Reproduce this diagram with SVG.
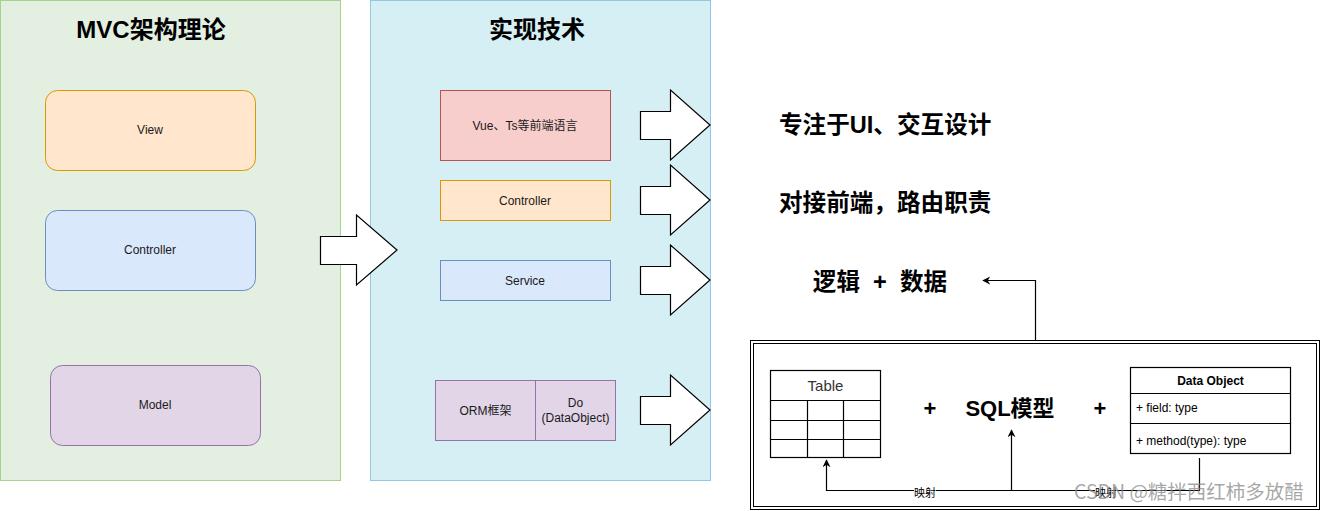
<svg xmlns="http://www.w3.org/2000/svg" width="1321" height="511" viewBox="0 0 1321 511">
<defs>
<style>
text{font-family:"Liberation Sans","Noto Sans CJK SC",sans-serif;fill:#1a1a1a;}
.t12{font-size:12px;}
.title{font-size:24px;font-weight:bold;fill:#000;}
.big{font-size:23.6px;font-weight:bold;fill:#000;}
.fat{fill:#fff;stroke:#000;stroke-width:1.2;}
.ln{fill:none;stroke:#000;stroke-width:1.2;}
.cell{fill:#fff;stroke:#000;stroke-width:1.2;}
</style>
<marker id="ah" viewBox="0 0 10 10" refX="9" refY="5" markerWidth="8" markerHeight="8" markerUnits="userSpaceOnUse" orient="auto">
<path d="M0,0 L10,5 L0,10 L3,5 Z" fill="#000"/>
</marker>
</defs>

<g id="panel-mvc">
<rect x="0.5" y="0.5" width="340" height="480" fill="#e3efe1" stroke="#a8d18d"/>
<text class="title" x="151" y="38" text-anchor="middle">MVC架构理论</text>
</g>
<g id="panel-impl">
<rect x="370.5" y="0.5" width="340" height="480" fill="#d5eff4" stroke="#90c8e8"/>
<text class="title" x="537" y="38" text-anchor="middle">实现技术</text>
</g>

<g id="view"><rect x="45.5" y="90.5" width="210" height="80" rx="12" fill="#ffe6cc" stroke="#d79b00"/><text class="t12" x="150" y="134" text-anchor="middle">View</text></g>
<g id="controller"><rect x="45.5" y="210.5" width="210" height="80" rx="12" fill="#dae8fc" stroke="#6c8ebf"/><text class="t12" x="150" y="254" text-anchor="middle">Controller</text></g>
<g id="model"><rect x="50.5" y="365.5" width="210" height="80" rx="12" fill="#e1d5e7" stroke="#9673a6"/><text class="t12" x="155" y="409" text-anchor="middle">Model</text></g>

<g id="big-arrow"><path class="fat" d="M320.5,236.5 H356.5 V215 L397,250 L356.5,285 V264.5 H320.5 Z"/></g>

<g id="vue"><rect x="440.5" y="90.5" width="170" height="70" fill="#f8cecc" stroke="#b85450"/><text class="t12" x="525" y="129.5" text-anchor="middle">Vue、Ts等前端语言</text></g>
<g id="impl-controller"><rect x="440.5" y="180.5" width="170" height="40" fill="#ffe6cc" stroke="#d79b00"/><text class="t12" x="525" y="204.5" text-anchor="middle">Controller</text></g>
<g id="service"><rect x="440.5" y="260.5" width="170" height="40" fill="#dae8fc" stroke="#6c8ebf"/><text class="t12" x="525" y="284.5" text-anchor="middle">Service</text></g>
<g id="orm"><rect x="435.5" y="380.5" width="100" height="60" fill="#e1d5e7" stroke="#9673a6"/><text class="t12" x="485.5" y="414.5" text-anchor="middle">ORM框架</text></g>
<g id="do"><rect x="535.5" y="380.5" width="80" height="60" fill="#e1d5e7" stroke="#9673a6"/><text class="t12" x="575.5" y="407" text-anchor="middle">Do</text><text class="t12" x="575.5" y="422" text-anchor="middle">(DataObject)</text></g>

<g id="arrow1"><path class="fat" d="M640.5,111.5 H670.5 V90 L710,125 L670.5,160 V139.5 H640.5 Z"/></g>
<g id="arrow2"><path class="fat" d="M640.5,186.5 H670.5 V165 L710,200 L670.5,235 V214.5 H640.5 Z"/></g>
<g id="arrow3"><path class="fat" d="M640.5,266.5 H670.5 V245 L710,280 L670.5,315 V294.5 H640.5 Z"/></g>
<g id="arrow4"><path class="fat" d="M640.5,396.5 H670.5 V375 L710,410 L670.5,445 V424.5 H640.5 Z"/></g>

<g id="label-ui"><text class="big" x="779" y="133">专注于UI、交互设计</text></g>
<g id="label-route"><text class="big" x="779" y="211">对接前端，路由职责</text></g>
<g id="label-logic"><text class="big" x="880" y="290" text-anchor="middle" xml:space="preserve">逻辑  +  数据</text></g>

<g id="model-box">
<rect x="750.5" y="340.5" width="569" height="169" fill="#fff" stroke="#000"/>
<rect x="753.5" y="343.5" width="563" height="163" fill="none" stroke="#000"/>
</g>

<g id="table">
<rect class="cell" x="770.5" y="370.5" width="110" height="87"/>
<path class="ln" d="M770.5,400.5 H880.5 M770.5,420.5 H880.5 M770.5,439.5 H880.5 M807.5,400.5 V457.5 M843.5,400.5 V457.5"/>
<text x="825.5" y="391" text-anchor="middle" style="font-size:15px;fill:#333">Table</text>
</g>

<g id="plus1"><text x="930" y="416" text-anchor="middle" style="font-size:22px;font-weight:bold;fill:#000">+</text></g>
<g id="sql-model"><text x="1010" y="416" text-anchor="middle" style="font-size:22px;font-weight:bold;fill:#000">SQL模型</text></g>
<g id="plus2"><text x="1100" y="416" text-anchor="middle" style="font-size:22px;font-weight:bold;fill:#000">+</text></g>

<g id="data-object">
<rect class="cell" x="1130.5" y="367.5" width="160" height="86"/>
<path class="ln" d="M1130.5,393.5 H1290.5 M1130.5,423.5 H1290.5"/>
<text class="t12" x="1210.5" y="385" text-anchor="middle" style="font-weight:bold;fill:#000">Data Object</text>
<text class="t12" x="1136" y="412" style="fill:#000">+ field: type</text>
<text class="t12" x="1136" y="445" style="fill:#000">+ method(type): type</text>
</g>

<g id="connectors">
<path class="ln" d="M1035.5,340 V280.5 H983" marker-end="url(#ah)"/>
<path class="ln" d="M1199.5,458 V490.5 H826.5 V460" marker-end="url(#ah)"/>
<path class="ln" d="M1199.5,490.5 H1011.5 V430" marker-end="url(#ah)"/>
<rect x="914" y="486" width="22" height="13" fill="#fff"/>
<text x="925" y="497" text-anchor="middle" style="font-size:11px;fill:#000">映射</text>
<rect x="1095" y="486" width="22" height="13" fill="#fff"/>
<text x="1106" y="497" text-anchor="middle" style="font-size:11px;fill:#000">映射</text>
</g>

<text x="1074" y="499" style="font-size:19.5px;fill:#8a8a8a;fill-opacity:0.75;font-family:'Noto Sans CJK SC','Liberation Sans',sans-serif">CSDN @糖拌西红柿多放醋</text>
</svg>
